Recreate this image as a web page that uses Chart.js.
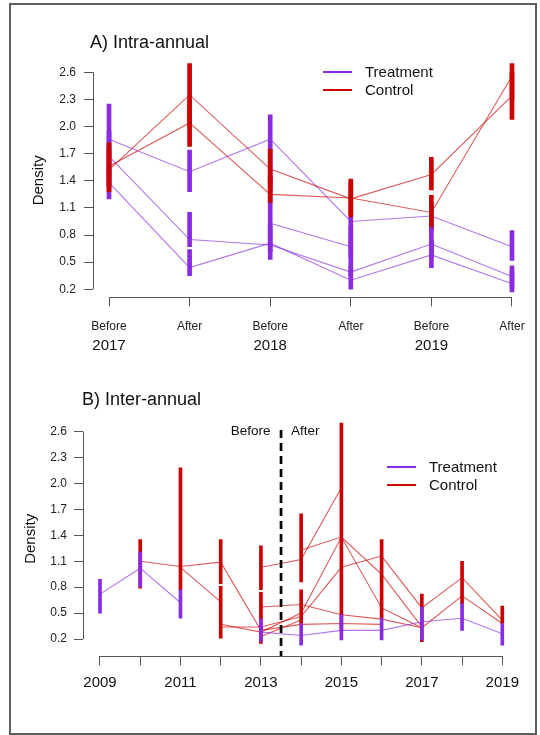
<!DOCTYPE html>
<html>
<head>
<meta charset="utf-8">
<script src="https://cdn.jsdelivr.net/npm/chart.js@4"></script>
<style>
  body { margin: 0; background: #fff; }
  #page { position: relative; width: 540px; height: 735px; overflow: hidden; font-family: "Liberation Sans", Arial, sans-serif; color: #111; }
  #frame { position: absolute; left: 9px; top: 3px; width: 528px; height: 732px; box-sizing: border-box; border: 2px solid #5f5f5f; }
  canvas { position: absolute; left: 0; }
  .title { position: absolute; font-size: 18px; line-height: 18px; white-space: nowrap; }
  .legend { position: absolute; font-size: 15px; }
  .legend div { position: relative; height: 18.4px; line-height: 18.4px; padding-left: 42px; white-space: nowrap; }
  .legend span { position: absolute; left: 0; top: 8px; width: 29px; height: 2px; }
</style>
</head>
<body>
<div id="page">
  <div id="frame"></div>
  <canvas id="intraChart" width="540" height="370" style="top:0"></canvas>
  <canvas id="interChart" width="540" height="365" style="top:370px"></canvas>
  <div class="title" style="left:90px; top:33px">A) Intra-annual</div>
  <div class="title" style="left:82px; top:390px">B) Inter-annual</div>
  <div class="legend" style="left:323px; top:63px">
    <div><span style="background:#8A2BE2"></span>Treatment</div>
    <div><span style="background:#CD0000"></span>Control</div>
  </div>
  <div class="legend" style="left:387px; top:457.5px">
    <div><span style="background:#8A2BE2"></span>Treatment</div>
    <div><span style="background:#CD0000"></span>Control</div>
  </div>
</div>
<script>
// ---- Panel A: intra-annual ----
const periodLabels = ['Before', 'After', 'Before', 'After', 'Before', 'After'];
const yearLabels = ['2017', '', '2018', '', '2019', ''];
const densityTicks = [0.2, 0.5, 0.8, 1.1, 1.4, 1.7, 2.0, 2.3, 2.6];

const intraTrt1 = [1.86, 1.50, 1.86, 0.95, 1.01, 0.67];
const intraTrt2 = [1.67, 0.75, 0.69, 0.39, 0.70, 0.34];
const intraTrt3 = [1.38, 0.44, 0.71, 0.30, 0.58, 0.26];
const intraTrt4 = [null, null, 0.93, 0.67, null, null];
const intraCtrl1 = [1.52, 2.35, 1.53, 1.20, 1.47, 2.34];
const intraCtrl2 = [1.56, 2.04, 1.25, 1.21, 1.05, 2.56];

// error bars [low, high]
const intraTrtBars1 = [[1.45, 2.25], [1.28, 1.74], [1.35, 2.13], [0.55, 1.00], [0.85, 1.15], [0.52, 0.85]];
const intraTrtBars2 = [[1.35, 1.95], [0.67, 1.05], [0.62, 1.30], [0.35, 0.90], [0.55, 0.89], [0.22, 0.46]];
const intraTrtBars3 = [[1.20, 1.55], [0.35, 0.64], [0.53, 0.90], [0.20, 0.45], [0.44, 0.75], [0.17, 0.40]];
const intraCtrlBars1 = [[1.28, 1.76], [2.00, 2.70], [1.30, 1.75], [1.00, 1.42], [1.30, 1.66], [2.08, 2.60]];
const intraCtrlBars2 = [[1.33, 1.82], [1.78, 2.30], [1.16, 1.45], [1.02, 1.38], [0.89, 1.24], [2.30, 2.70]];

// ---- Panel B: inter-annual ----
const years = [2009, 2010, 2011, 2012, 2013, 2014, 2015, 2016, 2017, 2018, 2019];
const yearTickLabels = ['2009', '', '2011', '', '2013', '', '2015', '', '2017', '', '2019'];
const cutYear = 2013.5;
const cutText = ['Before', 'After'];

const interTrt = [0.72, 1.02, 0.62, null, 0.28, 0.24, 0.30, 0.30, 0.40, 0.44, 0.26];
const interCtrl1 = [null, 1.10, 1.04, 1.09, 0.30, 0.37, 0.38, 0.37, null, null, null];
const interCtrl2 = [null, null, 1.03, 0.63, null, null, null, null, null, null, null];
const interCtrl3 = [null, null, null, 0.37, 0.28, 0.50, 1.38, 0.56, 0.33, 0.70, 0.38];
const interCtrl4 = [null, null, null, 0.34, 0.34, 0.46, 1.03, 1.16, 0.56, 0.91, 0.42];
const interCtrl5 = [null, null, null, null, 1.03, 1.12, 1.95, null, null, null, null];
const interCtrl6 = [null, null, null, null, 0.57, 0.60, 0.48, 0.43, 0.33, null, null];
const interCtrl7 = [null, null, null, null, null, 1.23, 1.38, 0.95, 0.34, null, null];
const interCtrl8 = [null, null, null, null, 0.23, 0.42, null, null, null, null, null];

const interTrtBars = [[0.50, 0.89], [0.80, 1.21], [0.44, 0.77], null, [0.17, 0.43], [0.13, 0.38],
                      [0.19, 0.48], [0.19, 0.44], [0.19, 0.57], [0.30, 0.61], [0.13, 0.38]];
const interCtrlBars1 = [null, [0.79, 1.35], [0.77, 2.18], [0.84, 1.35], [0.77, 1.28], [0.86, 1.65],
                        [0.30, 2.70], [0.44, 1.35], [0.17, 0.72], [0.61, 1.10], [0.38, 0.58]];
const interCtrlBars2 = [null, null, null, [0.21, 0.81], [0.42, 0.74], [0.38, 0.77], null, null, null, null, null];
const interCtrlBars3 = [null, null, null, null, [0.15, 0.40], null, null, null, null, null, null];

const trtColor = '#8A2BE2';
const ctrlColor = '#CD0000';
const trtLine = 'rgba(138, 43, 226, 0.65)';
const ctrlLine = 'rgba(205, 0, 0, 0.65)';
const axisColor = '#555';
const fontFamily = '"Liberation Sans", Arial, sans-serif';

Chart.defaults.font.family = fontFamily;
Chart.defaults.color = '#222';

function lineSet(values, xs, color) {
    return {
        type: 'line',
        data: xs.map((x, i) => ({ x: x, y: values[i] })),
        borderColor: color,
        borderWidth: 1.1,
        pointRadius: 0,
        spanGaps: false,
        fill: false,
        tension: 0,
        order: 5
    };
}

function barSet(ranges, xs, color, thick, order) {
    return {
        type: 'bar',
        data: xs.map((x, i) => ranges[i] ? { x: x, y: ranges[i] } : null).filter(d => d),
        backgroundColor: color,
        borderWidth: 0,
        barThickness: thick,
        grouped: false,
        order: order
    };
}

// R-like detached axes: line runs only from first to last tick
const baseAxes = {
    id: 'baseAxes',
    afterDraw(chart) {
        const { ctx, chartArea } = chart;
        const xs = chart.scales.x, ys = chart.scales.y;
        const xt = xs.ticks.map(t => xs.getPixelForValue(t.value));
        const yt = ys.ticks.map(t => ys.getPixelForValue(t.value));
        ctx.save();
        ctx.strokeStyle = axisColor;
        ctx.lineWidth = 1;
        ctx.beginPath();
        const bx = Math.round(chartArea.left) + 0.5;
        ctx.moveTo(bx, Math.min(...yt));
        ctx.lineTo(bx, Math.max(...yt));
        const by = Math.round(chartArea.bottom) + 0.5;
        ctx.moveTo(Math.min(...xt), by);
        ctx.lineTo(Math.max(...xt), by);
        ctx.stroke();
        ctx.restore();
    }
};

function yAxis(min, max, width, padding, tickLen) {
    return {
        min: min,
        max: max,
        afterBuildTicks: s => { s.ticks = densityTicks.map(v => ({ value: v })); },
        afterFit: s => { s.width = width; },
        ticks: { font: { size: 12 }, padding: padding, callback: v => v.toFixed(1), color: '#222' },
        grid: { display: true, drawOnChartArea: false, drawTicks: true, tickLength: tickLen, color: axisColor },
        border: { display: false },
        title: { display: true, text: 'Density', font: { size: 15 }, color: '#111', padding: { top: 4, bottom: 4 } }
    };
}

// ---- chart A ----
const xIdx = periodLabels.map((_, i) => i);
new Chart(document.getElementById('intraChart'), {
    type: 'line',
    data: {
        datasets: [
            barSet(intraCtrlBars1, xIdx, ctrlColor, 4, 0),
            barSet(intraCtrlBars2, xIdx, ctrlColor, 4, 0),
            barSet(intraTrtBars1, xIdx, trtColor, 4, 1),
            barSet(intraTrtBars2, xIdx, trtColor, 4, 1),
            barSet(intraTrtBars3, xIdx, trtColor, 4, 1),
            lineSet(intraCtrl1, xIdx, ctrlLine),
            lineSet(intraCtrl2, xIdx, ctrlLine),
            lineSet(intraTrt1, xIdx, trtLine),
            lineSet(intraTrt2, xIdx, trtLine),
            lineSet(intraTrt3, xIdx, trtLine),
            lineSet(intraTrt4, xIdx, trtLine)
        ]
    },
    options: {
        responsive: false,
        animation: false,
        events: [],
        layout: { padding: { left: 26, right: 11.9, top: 63.3, bottom: 0 } },
        plugins: { legend: { display: false }, tooltip: { enabled: false } },
        scales: {
            x: {
                type: 'linear', min: -0.2, max: 5.2, offset: false, weight: 0,
                afterBuildTicks: s => { s.ticks = xIdx.map(v => ({ value: v })); },
                afterFit: s => { s.height = 36; },
                ticks: { font: { size: 12 }, padding: 13, autoSkip: false, maxRotation: 0, color: '#222',
                         callback: (v, i) => periodLabels[i] },
                grid: { display: true, drawOnChartArea: false, drawTicks: true, tickLength: 9, color: axisColor, offset: false },
                border: { display: false }
            },
            x2: {
                type: 'linear', axis: 'x', position: 'bottom', min: -0.2, max: 5.2, offset: false, weight: 1,
                afterBuildTicks: s => { s.ticks = xIdx.map(v => ({ value: v })); },
                afterFit: s => { s.height = 36.6; },
                ticks: { font: { size: 15 }, padding: 3, autoSkip: false, maxRotation: 0, color: '#111',
                         callback: (v, i) => yearLabels[i] },
                grid: { display: false, drawTicks: false },
                border: { display: false }
            },
            y: yAxis(0.11, 2.7, 66.9, 8, 9)
        }
    },
    plugins: [baseAxes]
});

// ---- chart B ----
const cutLabels = {
    id: 'cutLabels',
    afterDatasetsDraw(chart) {
        const { ctx, scales } = chart;
        const px = scales.x.getPixelForValue(cutYear);
        const py = scales.y.getPixelForValue(2.6);
        ctx.save();
        ctx.font = '13.5px ' + fontFamily;
        ctx.fillStyle = '#111';
        ctx.textBaseline = 'middle';
        ctx.textAlign = 'right';
        ctx.fillText(cutText[0], px - 10.5, py);
        ctx.textAlign = 'left';
        ctx.fillText(cutText[1], px + 10, py);
        ctx.restore();
    }
};

new Chart(document.getElementById('interChart'), {
    type: 'line',
    data: {
        datasets: [
            {
                type: 'line',
                data: [{ x: cutYear, y: 2.62 }, { x: cutYear, y: 0 }],
                borderColor: '#000',
                borderWidth: 2.7,
                borderDash: [8, 5],
                pointRadius: 0,
                clip: false,
                order: 0
            },
            barSet(interTrtBars, years, trtColor, 3, 1),
            barSet(interCtrlBars1, years, ctrlColor, 3, 2),
            barSet(interCtrlBars2, years, ctrlColor, 3, 2),
            barSet(interCtrlBars3, years, ctrlColor, 3, 2),
            lineSet(interTrt, years, trtLine),
            lineSet(interCtrl1, years, ctrlLine),
            lineSet(interCtrl2, years, ctrlLine),
            lineSet(interCtrl3, years, ctrlLine),
            lineSet(interCtrl4, years, ctrlLine),
            lineSet(interCtrl5, years, ctrlLine),
            lineSet(interCtrl6, years, ctrlLine),
            lineSet(interCtrl7, years, ctrlLine),
            lineSet(interCtrl8, years, ctrlLine)
        ]
    },
    options: {
        responsive: false,
        animation: false,
        events: [],
        layout: { padding: { left: 17.5, right: 20.4, top: 51.3, bottom: 0 } },
        plugins: { legend: { display: false }, tooltip: { enabled: false } },
        scales: {
            x: {
                type: 'linear', min: 2008.57, max: 2019.43, offset: false,
                afterBuildTicks: s => { s.ticks = years.map(v => ({ value: v })); },
                afterFit: s => { s.height = 78.7; },
                ticks: { font: { size: 15 }, padding: 8.7, autoSkip: false, maxRotation: 0, color: '#111',
                         callback: (v, i) => yearTickLabels[i] },
                grid: { display: true, drawOnChartArea: false, drawTicks: true, tickLength: 9, color: axisColor, offset: false },
                border: { display: false }
            },
            y: yAxis(0, 2.72, 65.2, 7, 8.7)
        }
    },
    plugins: [baseAxes, cutLabels]
});
</script>
</body>
</html>
